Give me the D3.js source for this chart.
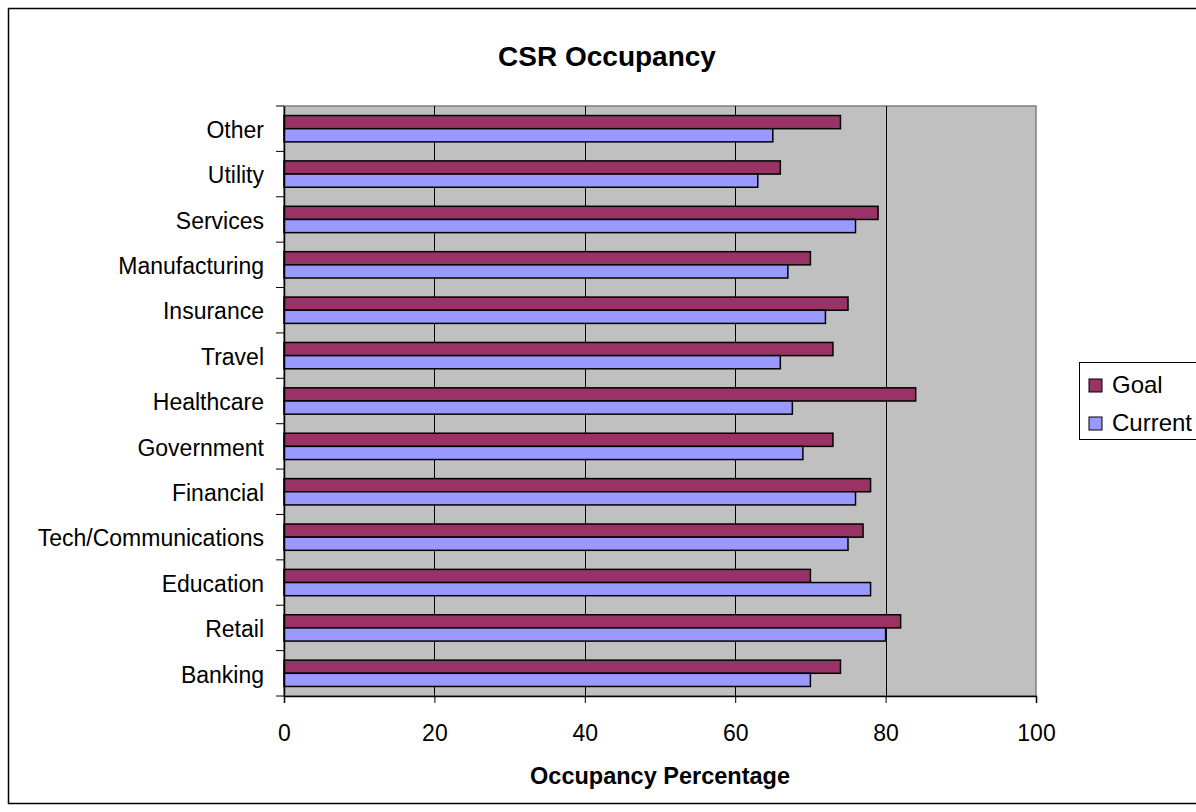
<!DOCTYPE html>
<html>
<head>
<meta charset="utf-8">
<script src="https://cdn.jsdelivr.net/npm/d3@7"></script>
<style>
  html, body { margin: 0; padding: 0; background: #fff; }
  svg { display: block; font-family: "Liberation Sans", Arial, sans-serif; }
</style>
</head>
<body>
<svg id="chart" width="1196" height="812"></svg>
<script>
// ---- data ----
const categories = ["Banking", "Retail", "Education", "Tech/Communications", "Financial",
  "Government", "Healthcare", "Travel", "Insurance", "Manufacturing", "Services", "Utility", "Other"];
const goalValues = [74, 82, 70, 77, 78, 73, 84, 73, 75, 70, 79, 66, 74];
const currentValues = [70, 80, 78, 75, 76, 69, 67.6, 66, 72, 67, 76, 63, 65];
const seriesNames = ["Goal", "Current"];
const seriesColors = ["#993366", "#9999FF"];
const xTicks = [0, 20, 40, 60, 80, 100];
const chartTitle = "CSR Occupancy";
const xTitle = "Occupancy Percentage";

// ---- layout ----
const svg = d3.select("#chart");
const plot = { left: 284, right: 1036, top: 106, bottom: 696 };

// outer chart border
svg.append("rect")
  .attr("x", 8.5).attr("y", 8.5).attr("width", 1196).attr("height", 795)
  .attr("fill", "#fff").attr("stroke", "#000").attr("stroke-width", 1.5);

const x = d3.scaleLinear().domain([0, 100]).range([plot.left, plot.right]);
const y = d3.scaleBand().domain(categories.slice().reverse())
  .range([plot.top, plot.bottom]).paddingInner(0.42).paddingOuter(0.21);
const ySub = d3.scaleBand().domain(seriesNames).range([0, y.bandwidth()]);
const yCat = d3.scaleBand().domain(categories.slice().reverse()).range([plot.top, plot.bottom]);

// plot background
svg.append("rect")
  .attr("x", plot.left).attr("y", plot.top)
  .attr("width", plot.right - plot.left).attr("height", plot.bottom - plot.top)
  .attr("fill", "#C0C0C0").attr("stroke", "#808080").attr("stroke-width", 1.5);

// gridlines
svg.append("g").selectAll("line").data(xTicks.filter(t => t > 0 && t < 100)).join("line")
  .attr("x1", d => Math.round(x(d)) + 0.5).attr("x2", d => Math.round(x(d)) + 0.5)
  .attr("y1", plot.top).attr("y2", plot.bottom)
  .attr("stroke", "#000").attr("stroke-width", 1);

// bars
const data = categories.map((c, i) => ({ cat: c, values: [goalValues[i], currentValues[i]] }));
const groups = svg.append("g").selectAll("g").data(data).join("g")
  .attr("transform", d => `translate(0,${y(d.cat)})`);
groups.selectAll("rect").data(d => d.values.map((v, j) => ({ name: seriesNames[j], v, j })))
  .join("rect")
  .attr("x", x(0))
  .attr("y", d => ySub(d.name))
  .attr("width", d => x(d.v) - x(0))
  .attr("height", ySub.bandwidth())
  .attr("fill", d => seriesColors[d.j])
  .attr("stroke", "#000").attr("stroke-width", 1.5);

// x axis
const xAxis = d3.axisBottom(x).tickValues(xTicks).tickSize(7).tickPadding(22);
const gx = svg.append("g").attr("transform", `translate(0,${plot.bottom})`).call(xAxis);
gx.select(".domain").attr("stroke", "#000").attr("stroke-width", 1.5);
gx.selectAll(".tick line").attr("stroke", "#000").attr("stroke-width", 1);
gx.selectAll(".tick text").attr("font-size", 23).attr("fill", "#000")
  .attr("font-family", "'Liberation Sans', Arial, sans-serif");

// y axis
const yAxis = d3.axisLeft(yCat).tickSize(0).tickPadding(20);
const gy = svg.append("g").attr("transform", `translate(${plot.left},0)`).call(yAxis);
gy.select(".domain").attr("stroke", "#000").attr("stroke-width", 1.5);
gy.selectAll(".tick text").attr("font-size", 23).attr("fill", "#000")
  .attr("font-family", "'Liberation Sans', Arial, sans-serif").attr("dy", "0.4em");
// category boundary ticks
const bounds = categories.slice().reverse().map(c => yCat(c)).concat([plot.bottom]);
svg.append("g").selectAll("line").data(bounds).join("line")
  .attr("x1", plot.left - 8).attr("x2", plot.left)
  .attr("y1", d => d).attr("y2", d => d)
  .attr("stroke", "#000").attr("stroke-width", 1);

// title
svg.append("text").attr("x", 607).attr("y", 66).attr("text-anchor", "middle")
  .attr("font-size", 28).attr("font-weight", "bold").text(chartTitle);

// x axis title
svg.append("text").attr("x", (plot.left + plot.right) / 2).attr("y", 784).attr("text-anchor", "middle")
  .attr("font-size", 23.5).attr("font-weight", "bold").text(xTitle);

// legend
const lg = svg.append("g");
lg.append("rect").attr("x", 1079.5).attr("y", 362.5).attr("width", 140).attr("height", 77)
  .attr("fill", "#fff").attr("stroke", "#000").attr("stroke-width", 1);
const items = lg.selectAll("g.item").data(seriesNames).join("g").attr("class", "item")
  .attr("transform", (d, i) => `translate(1089,${379 + i * 38})`);
items.append("rect").attr("width", 13).attr("height", 13)
  .attr("fill", (d, i) => seriesColors[i]).attr("stroke", "#000").attr("stroke-width", 1);
items.append("text").attr("x", 23).attr("y", 13.5).attr("font-size", 24).text(d => d);
</script>
</body>
</html>
